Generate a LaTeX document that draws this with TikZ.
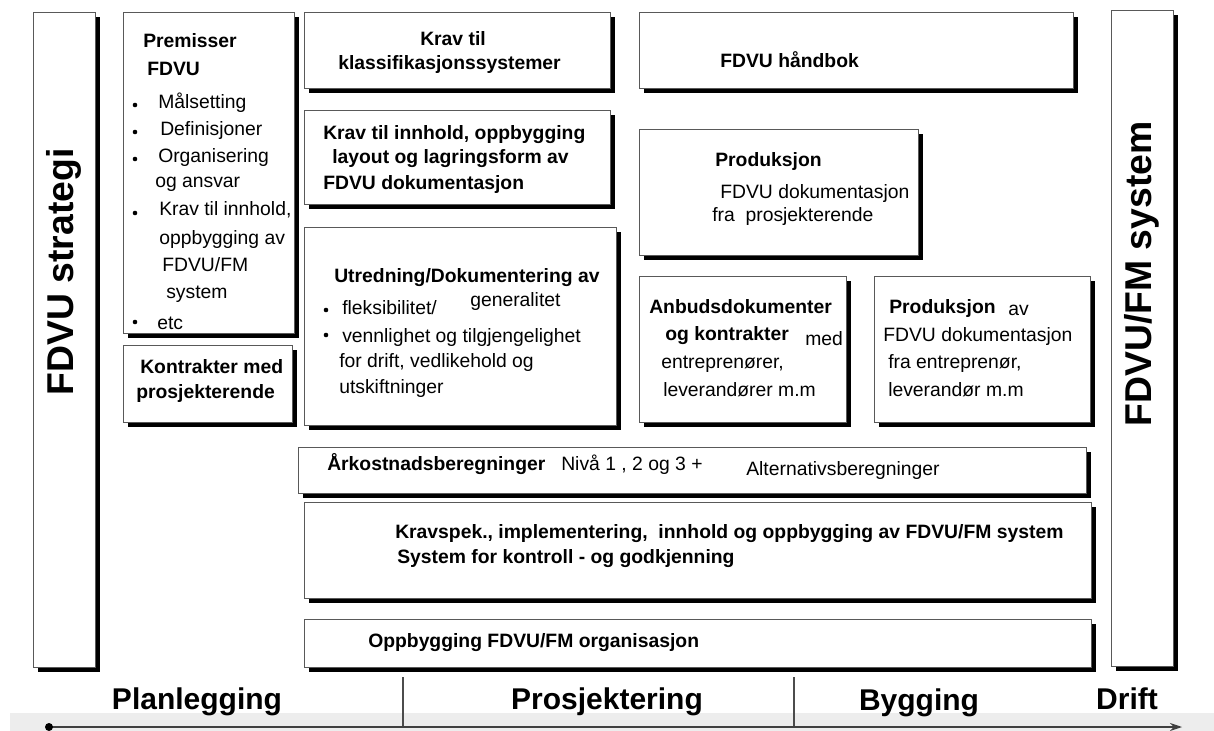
\documentclass[tikz,border=0pt]{standalone}
\usepackage{fontspec}
\setmainfont{Liberation Sans}
\usetikzlibrary{arrows.meta, positioning, shadows, fit}

\begin{document}
\begin{tikzpicture}[x=0.75pt, y=-0.75pt,
    box/.style={draw=black!65, line width=0.7pt, fill=white, inner sep=0pt,
        drop shadow={shadow xshift=3.5pt, shadow yshift=-3.5pt, fill=black, opacity=1}},
    txt/.style={anchor=base west, inner sep=0pt, font=\fontsize{14.5}{16}\selectfont},
    btxt/.style={txt, font=\fontsize{14.5}{16}\selectfont\bfseries},
    phase/.style={anchor=base, inner sep=0pt, font=\fontsize{22.5}{26}\selectfont\bfseries},
    side/.style={rotate=90, inner sep=0pt, font=\fontsize{28}{32}\selectfont\bfseries}]
    \useasboundingbox (0,0) rectangle (1214,731);
    \fill[black!7] (10,713) rectangle (1214,731);

    % boxes
    \node[box, fit={(33,12) (95,667)}] (strat) {};
    \node[box, fit={(123,12) (294,333)}] (prem) {};
    \node[box, fit={(123,345) (292,422)}] (kontr) {};
    \node[box, fit={(304,12) (610,88)}] (klass) {};
    \node[box, fit={(304,110) (610,204)}] (innh) {};
    \node[box, fit={(304,227) (616,425)}] (utr) {};
    \node[box, fit={(639,12) (1073,88)}] (handb) {};
    \node[box, fit={(639,129) (918,255)}] (prod) {};
    \node[box, fit={(639,276) (846,422)}] (anbud) {};
    \node[box, fit={(874,276) (1090,422)}] (prodav) {};
    \node[box, fit={(298,447) (1086,493)}] (arkost) {};
    \node[box, fit={(304,502) (1091,598)}] (kravspek) {};
    \node[box, fit={(304,619) (1091,667)}] (org) {};
    \node[box, fit={(1111,10) (1173,666)}] (fmsys) {};

    % side labels
    \node[side] (stratT) at (strat.center |- 0,272) {FDVU strategi};
    \node[side] (fmsysT) at (fmsys.center |- 0,274) {FDVU/FM system};

    % premisser
    \node[btxt] (premA) at (143,48) {Premisser};
    \node[btxt] (premB) at (147,76) {FDVU};
    \node[txt] (premC) at (158,109) {Målsetting};
    \node[txt] (premD) at (160,136) {Definisjoner};
    \node[txt] (premE) at (158,163) {Organisering};
    \node[txt] (premF) at (155,188) {og ansvar};
    \node[txt] (premG) at (159,216) {Krav til innhold,};
    \node[txt] (premH) at (159,244) {oppbygging av};
    \node[txt] (premI) at (162,272) {FDVU/FM};
    \node[txt] (premJ) at (166,298) {system};
    \node[txt] (premK) at (157,329) {etc};
    \foreach \y in {105,132,159,213,322}
        \fill (135,\y) circle (2.3);

    \node[btxt] (kontrA) at (140,373) {Kontrakter med};
    \node[btxt] (kontrB) at (136,398) {prosjekterende};

    % middle column
    \node[btxt] (klassA) at (420,46) {Krav til};
    \node[btxt] (klassB) at (338,70) {klassifikasjonssystemer};

    \node[btxt] (innhA) at (323,140) {Krav til innhold, oppbygging};
    \node[btxt] (innhB) at (332,164) {layout og lagringsform av};
    \node[btxt] (innhC) at (323,190) {FDVU dokumentasjon};

    \node[btxt] (utrA) at (334,282) {Utredning/Dokumentering av};
    \node[txt] (utrB) at (342,314) {fleksibilitet/};
    \node[txt] (utrC) at (470,306) {generalitet};
    \node[txt] (utrD) at (342,342) {vennlighet og tilgjengelighet};
    \node[txt] (utrE) at (339,367) {for drift, vedlikehold og};
    \node[txt] (utrF) at (339,393) {utskiftninger};
    \foreach \y in {310,335}
        \fill (326,\y) circle (2.3);

    % right column
    \node[btxt] (handbA) at (720,68) {FDVU håndbok};

    \node[btxt] (prodA) at (715,167) {Produksjon};
    \node[txt] (prodB) at (720,199) {FDVU dokumentasjon};
    \node[txt] (prodC) at (712,222) {fra\ \ prosjekterende};

    \node[btxt] (anbudA) at (649,313) {Anbudsdokumenter};
    \node[btxt] (anbudB) at (665,340) {og kontrakter};
    \node[txt] (anbudC) at (805,345) {med};
    \node[txt] (anbudD) at (661,368) {entreprenører,};
    \node[txt] (anbudE) at (663,396) {leverandører m.m};

    \node[btxt] (prodavA) at (889,313) {Produksjon};
    \node[txt] (prodavB) at (1008,315) {av};
    \node[txt] (prodavC) at (883,341) {FDVU dokumentasjon};
    \node[txt] (prodavD) at (888,368) {fra entreprenør,};
    \node[txt] (prodavE) at (888,396) {leverandør m.m};

    % wide rows
    \node[btxt] (arkostA) at (327,470) {Årkostnadsberegninger};
    \node[txt] (arkostB) at (561,470) {Nivå 1 , 2 og 3 +};
    \node[txt] (arkostC) at (746,475) {Alternativsberegninger};

    \node[btxt] (kravA) at (395,538) {Kravspek., implementering,\ \ innhold og oppbygging av FDVU/FM system};
    \node[btxt] (kravB) at (397,563) {System for kontroll - og godkjenning};

    \node[btxt] (orgA) at (368,647) {Oppbygging FDVU/FM organisasjon};

    % timeline
    \coordinate (t0) at (49,727);
    \coordinate (t1) at (1182,727);
    \coordinate (s1) at (403,677);
    \coordinate (s2) at (794,677);
    \draw[black!70, line width=0.8pt] (s1) -- (s1 |- t0);
    \draw[black!70, line width=0.8pt] (s2) -- (s2 |- t0);
    \draw[black!75, line width=0.8pt, -{Stealth[length=9pt, width=6pt]}] (t0) -- (t1);
    \fill (t0) circle (4);
    \node[phase] (plan) at (197,709) {Planlegging};
    \node[phase] (prosj) at (607,709) {Prosjektering};
    \node[phase] (bygg) at (919,710) {Bygging};
    \node[phase] (drift) at (1127,709) {Drift};
\end{tikzpicture}
\end{document}
